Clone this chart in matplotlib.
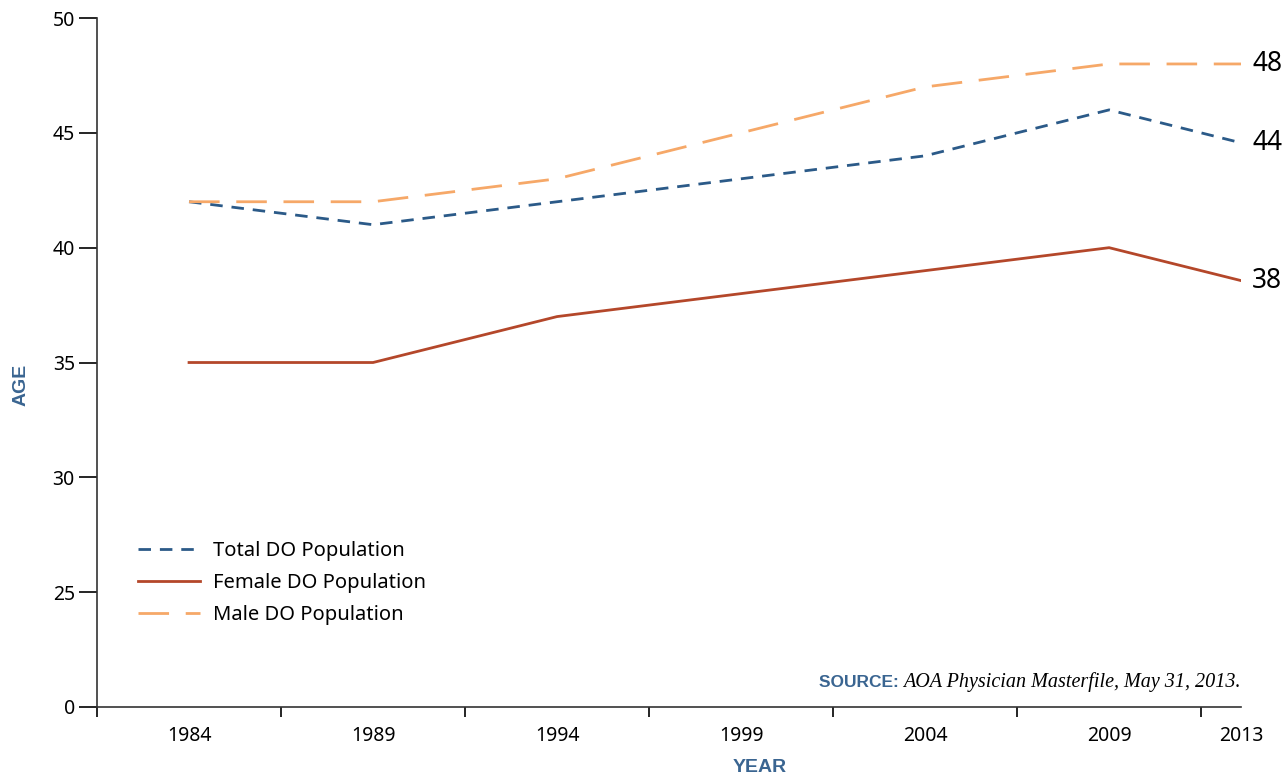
import matplotlib.pyplot as plt
import numpy as np

# data
years = ['1984', '1989', '1994', '1999', '2004', '2009', '2013']
total = [42, 41, 42, 43, 44, 46, 44]
female = [35, 35, 37, 38, 39, 40, 38]
male = [42, 42, 43, 45, 47, 48, 48]
ytick_vals = [20, 25, 30, 35, 40, 45, 50]
ytick_labels = ['0', '25', '30', '35', '40', '45', '50']

c_total = '#2b5a88'
c_female = '#b4472a'
c_male = '#f6a868'
c_title = '#3a6591'

plt.rcParams['font.family'] = ['Noto Sans', 'DejaVu Sans']
bold_fam = ['Liberation Sans', 'DejaVu Sans']

fig = plt.figure(figsize=(12.87, 7.77), dpi=100)
ax = fig.add_axes([0.0754, 0.0901, 0.8889, 0.8867])

x = np.arange(len(years))
# last category is cut short by the axis end
x_end = 5.717

ax.plot(x, total, color=c_total, lw=2, dashes=(4.5, 3.2), label='Total DO Population')
ax.plot(x, female, color=c_female, lw=2, label='Female DO Population')
ax.plot(x, male, color=c_male, lw=2, dashes=(11, 6), label='Male DO Population')

ax.set_xlim(-0.5, x_end)
ax.set_ylim(20, 50)

ax.set_xticks(list(x[:-1]) + [x_end])
ax.set_xticklabels(years)
ax.tick_params(axis='x', which='major', length=0, pad=14, labelsize=14)
ax.set_xticks(list(np.arange(-0.5, 6, 1)) + [x_end], minor=True)
ax.tick_params(axis='x', which='minor', length=7, width=1.2, direction='out')

ax.set_yticks(ytick_vals)
ax.set_yticklabels(ytick_labels)
ax.tick_params(axis='y', length=13, width=1.2, labelsize=14, pad=3)

for s in ['top', 'right']:
    ax.spines[s].set_visible(False)
for s in ['left', 'bottom']:
    ax.spines[s].set_linewidth(1.2)
    ax.spines[s].set_color('#333333')

# end labels, next to where each line meets the axis end
for vals in (male, total, female):
    y_end = vals[-2] + (vals[-1] - vals[-2]) * (x_end - x[-2])
    ax.text(x_end + 0.06, y_end, str(vals[-1]), fontsize=19, va='center', ha='left',
            clip_on=False)

ax.legend(loc='lower left', bbox_to_anchor=(0.02, 0.092), frameon=False, fontsize=14.5,
          handlelength=3.1, handletextpad=0.6, labelspacing=0.6)

src = ax.text(1.0, 0.036, 'AOA Physician Masterfile, May 31, 2013.', transform=ax.transAxes,
              ha='right', va='center', fontsize=14.5, style='italic',
              family=['Liberation Serif', 'DejaVu Serif'])
ax.annotate('SOURCE: ', xy=(0, 0.5), xycoords=src, ha='right', va='center',
            fontsize=12.5, fontweight='bold', color=c_title, family=bold_fam)

fig.text(0.016, 0.505, 'AGE', rotation=90, ha='center', va='center', fontsize=14,
         fontweight='bold', color=c_title, family=bold_fam)
fig.text(0.59, 0.012, 'YEAR', ha='center', va='center', fontsize=14,
         fontweight='bold', color=c_title, family=bold_fam)

fig.savefig('out.png', dpi=100)
